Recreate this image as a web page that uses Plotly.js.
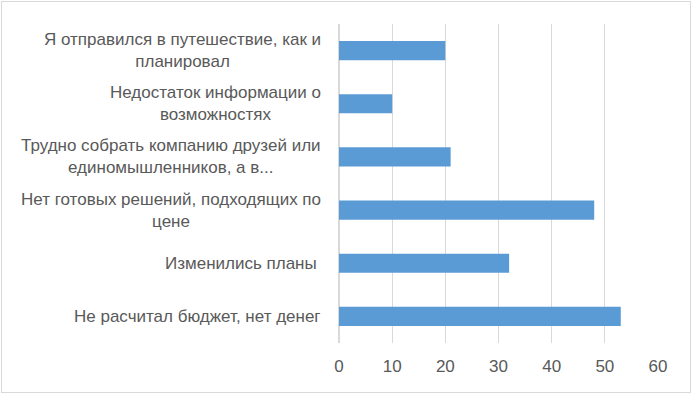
<!DOCTYPE html>
<html>
<head>
<meta charset="utf-8">
<script src="https://cdn.plot.ly/plotly-3.0.1.min.js"></script>
<style>
  html, body { margin: 0; padding: 0; background: #ffffff; }
  #wrap { position: relative; width: 692px; height: 394px; }
  #chart { width: 692px; height: 394px; }
  #frame { position: absolute; left: 1px; top: 1px; width: 688px; height: 390px;
           border: 1px solid #d9d9d9; pointer-events: none; }
</style>
</head>
<body>
<div id="wrap">
  <div id="chart"></div>
  <div id="frame"></div>
</div>
<script>
// Categories (top to bottom as shown)
const categories = [
  "Я отправился в путешествие, как и<br>планировал",
  "Недостаток информации о<br>возможностях",
  "Трудно собрать компанию друзей или<br>единомышленников, а в...",
  "Нет готовых решений, подходящих по<br>цене",
  "Изменились планы\u00a0",
  "Не расчитал бюджет, нет денег"
];
const values = [20, 10, 21, 48, 32, 53];
const xTicks = [0, 10, 20, 30, 40, 50, 60];

const textColor = "#595959";
const fontFamily = "'Liberation Sans', Arial, sans-serif";

const trace = {
  type: "bar",
  orientation: "h",
  y: categories,
  x: values,
  marker: { color: "#5b9bd5" },
  hoverinfo: "x+y"
};

const annotations = categories.map(c => ({
  xref: "paper", yref: "y",
  x: 0, y: c,
  xanchor: "right", yanchor: "middle",
  xshift: -16,
  text: c,
  align: "center",
  showarrow: false,
  font: { family: fontFamily, size: 17, color: textColor }
}));

const layout = {
  width: 692, height: 394,
  margin: { l: 339, r: 34, t: 24, b: 51 },
  paper_bgcolor: "#ffffff",
  plot_bgcolor: "#ffffff",
  showlegend: false,
  bargap: 0.64,
  font: { family: fontFamily, size: 17, color: textColor },
  xaxis: {
    range: [0, 60],
    tickvals: xTicks,
    ticktext: xTicks.map(String),
    showgrid: true,
    gridcolor: "#d9d9d9",
    gridwidth: 1.3,
    zeroline: true,
    zerolinecolor: "#d9d9d9",
    zerolinewidth: 1.3,
    showline: false,
    ticks: "",
    ticklabelstandoff: 11,
    tickfont: { family: fontFamily, size: 17, color: textColor },
    fixedrange: true
  },
  yaxis: {
    type: "category",
    autorange: "reversed",
    showticklabels: false,
    showgrid: false,
    zeroline: false,
    showline: false,
    ticks: "",
    fixedrange: true
  },
  annotations: annotations
};

Plotly.newPlot("chart", [trace], layout, { displayModeBar: false, staticPlot: true });
</script>
</body>
</html>
